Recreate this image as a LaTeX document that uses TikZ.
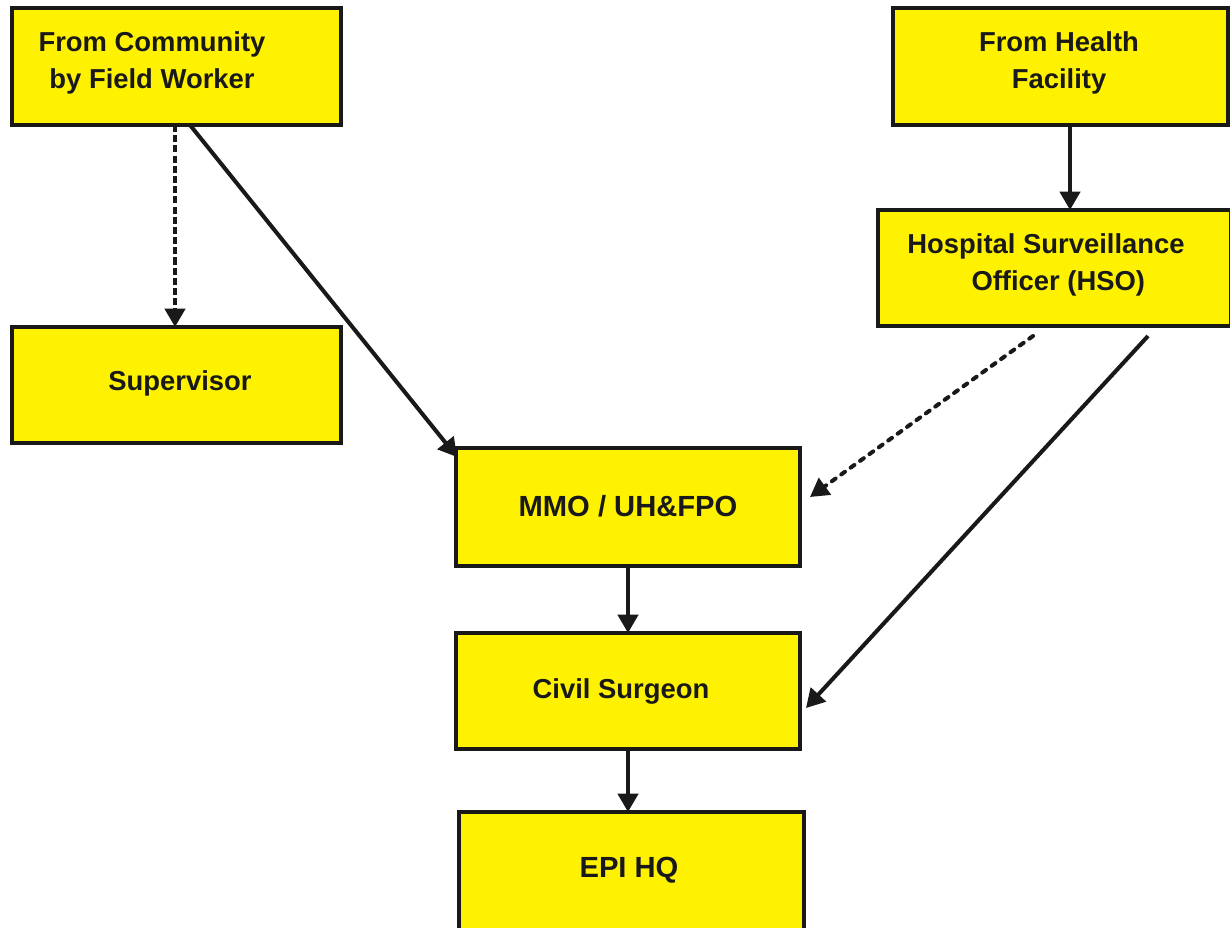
\documentclass[tikz,border=0pt]{standalone}
\usepackage{fontspec}
\setmainfont{Liberation Sans}
\usetikzlibrary{arrows.meta}
\definecolor{boxyellow}{RGB}{255,242,0}
\tikzset{
  box/.style={draw=black!90, fill=boxyellow, line width=2.1pt, rectangle,
    inner sep=0pt, outer sep=0pt},
  lbl/.style={font=\fontsize{15.6pt}{21pt}\selectfont\bfseries, align=center,
    inner sep=0pt, text=black!90},
  biglbl/.style={lbl, font=\fontsize{16.6pt}{21pt}\selectfont\bfseries},
  flow/.style={line width=2.3pt, draw=black!90,
    -{Triangle[length=10.5pt,width=11.5pt]}},
  dashflow/.style={flow, dash pattern=on 4pt off 1.8pt},
  dotflow/.style={flow, line cap=round, dash pattern=on 2.6pt off 4pt}
}
\begin{document}
\begin{tikzpicture}[x=0.02cm, y=-0.02cm]
\useasboundingbox (0,0) rectangle (1230,927);
\begin{scope}
\clip (0,0) rectangle (1230,927);
% boxes
\node[box, minimum width=329*0.02cm, minimum height=117*0.02cm] (comm) at (176.5,66.5) {};
\node[box, minimum width=335*0.02cm, minimum height=117*0.02cm] (hf) at (1060.5,66.5) {};
\node[box, minimum width=353*0.02cm, minimum height=116*0.02cm] (hso) at (1054.5,268) {};
\node[box, minimum width=329*0.02cm, minimum height=116*0.02cm] (sup) at (176.5,385) {};
\node[box, minimum width=344*0.02cm, minimum height=118*0.02cm] (mmo) at (628,507) {};
\node[box, minimum width=344*0.02cm, minimum height=116*0.02cm] (cs) at (628,691) {};
\node[box, minimum width=345*0.02cm, minimum height=120*0.02cm] (epi) at (631.5,872) {};
\end{scope}
% labels
\node[lbl] (tcomm) at (152,63) {From Community\\by Field Worker};
\node[lbl] (thf) at (1059,63) {From Health\\Facility};
\node[lbl] (thso) at (1046,265) {Hospital Surveillance\\\hspace*{0.9em}Officer (HSO)};
\node[lbl] (tsup) at (180,383) {Supervisor};
\node[biglbl] (tmmo) at (628,506) {MMO / UH\&FPO};
\node[lbl] (tcs) at (621,691) {Civil Surgeon};
\node[biglbl] (tepi) at (629,870) {EPI HQ};
% connectors
\draw[dashflow] ([shift={(-1.5,0)}]comm.south) -- ([shift={(-1.5,0)}]sup.north);
\draw[flow] ([shift={(13.5,0)}]comm.south) -- ([shift={(1,9)}]mmo.north west);
\draw[flow] ([shift={(9.5,0)}]hf.south) -- ([shift={(15.5,0)}]hso.north);
\draw[dotflow] ([shift={(-21.5,10)}]hso.south) -- ([shift={(10,-10)}]mmo.east);
\draw[flow] ([shift={(93.5,10)}]hso.south) -- ([shift={(6,17)}]cs.east);
\draw[flow] (mmo.south) -- (cs.north);
\draw[flow] (cs.south) -- ([shift={(-3.5,0)}]epi.north);
\end{tikzpicture}
\end{document}
